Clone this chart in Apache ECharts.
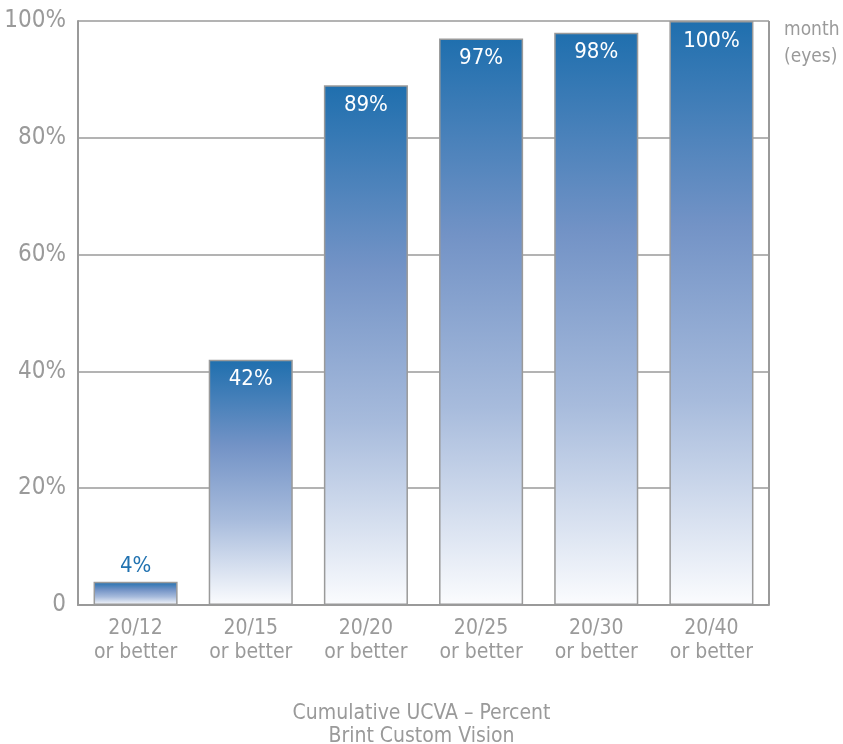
<!DOCTYPE html>
<html><head><meta charset="utf-8">
<script src="https://cdn.jsdelivr.net/npm/echarts@6/dist/echarts.min.js"></script>
<style>html,body{margin:0;padding:0;background:#fff}#c{width:843px;height:744px}</style>
</head><body><div id="c"></div>
<script>
const categories = ['20/12\nor better','20/15\nor better','20/20\nor better','20/25\nor better','20/30\nor better','20/40\nor better'];
const values = [4, 42, 89, 97, 98, 100];
const yTicks = [0, 20, 40, 60, 80, 100];
const unitLabel = 'month\n(eyes)';
const titleText = 'Cumulative UCVA – Percent\nBrint Custom Vision';

const FONT = "'DejaVu Sans Condensed','Liberation Sans Narrow',sans-serif";
const GRAY = '#9a9a9a';
const chart = echarts.init(document.getElementById('c'));
const grad = new echarts.graphic.LinearGradient(0,0,0,1,[
  {offset:0,color:'#1f6fae'},
  {offset:0.35,color:'#7393c6'},
  {offset:0.65,color:'#a7bbdc'},
  {offset:1,color:'#fbfcfe'}
]);
chart.setOption({
  animation:false,
  grid:{left:78,right:74,top:21,bottom:139,show:false,containLabel:false,outerBoundsMode:'none'},
  title:{text:titleText,left:'center',top:697,textStyle:{fontFamily:FONT,fontSize:21,fontWeight:'normal',color:GRAY,lineHeight:23}},
  graphic:[{type:'text',left:784,top:17,style:{text:unitLabel,fontFamily:FONT,fontSize:19,fill:GRAY,lineHeight:27,textAlign:'left'}}],
  xAxis:{type:'category',data:categories,
    axisLine:{lineStyle:{color:GRAY,width:2}},axisTick:{show:false},
    axisLabel:{fontFamily:FONT,fontSize:21,color:GRAY,lineHeight:24,margin:12}},
  yAxis:{type:'value',min:0,max:100,interval:20,
    axisLine:{show:true,lineStyle:{color:GRAY,width:2}},axisTick:{show:false},
    splitLine:{lineStyle:{color:GRAY,width:1.5}},
    axisLabel:{fontFamily:FONT,fontSize:24,color:GRAY,margin:12,
      formatter:v=>yTicks.includes(v)?(v===0?'0':v+'%'):''}},
  series:[{type:'bar',barWidth:'73%',
    data:values.map((v,i)=>({value:v,label:i===0?{position:'top',color:'#2172b0',distance:4}:{position:'insideTop',color:'#fff',distance:9}})),
    itemStyle:{color:grad,borderColor:GRAY,borderWidth:1.5},
    label:{show:true,formatter:'{c}%',fontFamily:FONT,fontSize:22}
  },{type:'line',data:[],markLine:{symbol:'none',silent:true,label:{show:false},
    lineStyle:{color:GRAY,width:2,type:'solid'},data:[[{coord:[5,0],x:769},{coord:[5,100],x:769}]]}}]
});
</script></body></html>
